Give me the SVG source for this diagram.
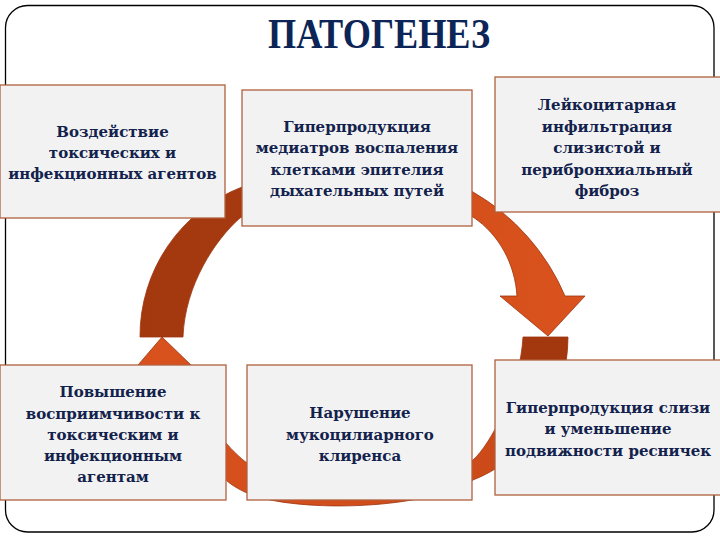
<svg xmlns="http://www.w3.org/2000/svg" width="720" height="540" viewBox="0 0 720 540">
<style>
.box{fill:#f2f2f2;stroke:#b0603e;stroke-width:1.3}
.t{font-family:"DejaVu Serif","Liberation Serif",serif;font-weight:bold;font-size:15px;fill:#13224c;text-anchor:middle}
.title{font-family:"Liberation Serif","Times New Roman",serif;font-weight:bold;font-size:42px;fill:#0c2456;text-anchor:middle}
.arc{stroke:#9c3510;stroke-width:0.8;stroke-linejoin:round}
</style>
<defs>
<linearGradient id="gUp" gradientUnits="userSpaceOnUse" x1="140" y1="0" x2="585" y2="0">
<stop offset="0" stop-color="#a3380f"/>
<stop offset="0.45" stop-color="#a83a10"/>
<stop offset="0.55" stop-color="#d24d1a"/>
<stop offset="1" stop-color="#da531e"/>
</linearGradient>
<linearGradient id="gLow" gradientUnits="userSpaceOnUse" x1="568" y1="0" x2="125" y2="0">
<stop offset="0" stop-color="#a3380f"/>
<stop offset="0.105" stop-color="#a3380f"/>
<stop offset="0.15" stop-color="#cc4a19"/>
<stop offset="1" stop-color="#d9521e"/>
</linearGradient>
</defs>
<rect x="5.5" y="5.5" width="708.5" height="526.5" rx="22" fill="#ffffff" stroke="#000000" stroke-width="1.3"/>
<text class="title" x="379" y="48" textLength="222" lengthAdjust="spacingAndGlyphs">ПАТОГЕНЕЗ</text>
<g id="connectors">
<path class="arc" fill="url(#gUp)" d="M140,337 A160,160 0 0 1 242,187 C290,168 420,160 473,192 A219,219 0 0 1 565,296 L585,296 L548,336 L500,296 L517,296 C515,265 500,235 473,217 C430,190 290,190 240,218 C215,240 185,285 183,337 Z"/>
<path class="arc" fill="url(#gLow)" d="M523,337 L568,337 C568,410 520,462 473,480 C420,512 290,512 247,493 C238,489 230,484 226,480 C190,455 150,425 147,392 L115,392 L162,337 L219,392 L187,392 C190,415 205,435 226,443 C232,450 240,458 247,463 C300,490 420,490 473,460 C490,445 520,390 523,337 Z"/>
</g>
<g id="n1">
<rect class="box" x="0" y="85" width="225" height="133"/>
<text class="t" x="112.5" y="137">Воздействие</text>
<text class="t" x="112.5" y="158">токсических и</text>
<text class="t" x="112.5" y="179">инфекционных  агентов</text>
</g>
<g id="n2">
<rect class="box" x="242" y="90" width="230" height="136"/>
<text class="t" x="357" y="132">Гиперпродукция</text>
<text class="t" x="357" y="153">медиатров воспаления</text>
<text class="t" x="357" y="174.5">клетками эпителия</text>
<text class="t" x="357" y="195.5">дыхательных путей</text>
</g>
<g id="n3">
<rect class="box" x="495" y="77" width="228" height="135"/>
<text class="t" x="607" y="110">Лейкоцитарная</text>
<text class="t" x="607" y="131.5">инфильтрация</text>
<text class="t" x="607" y="153">слизистой и</text>
<text class="t" x="607" y="174.5">перибронхиальный</text>
<text class="t" x="607" y="196">фиброз</text>
</g>
<g id="n4">
<rect class="box" x="0" y="365" width="226" height="135"/>
<text class="t" x="113" y="397">Повышение</text>
<text class="t" x="113" y="418.5">восприимчивости к</text>
<text class="t" x="113" y="440">токсическим и</text>
<text class="t" x="113" y="461">инфекционным</text>
<text class="t" x="113" y="482">агентам</text>
</g>
<g id="n5">
<rect class="box" x="247" y="365" width="225" height="135"/>
<text class="t" x="360" y="418">Нарушение</text>
<text class="t" x="360" y="439.5">мукоцилиарного</text>
<text class="t" x="360" y="461">клиренса</text>
</g>
<g id="n6">
<rect class="box" x="495" y="360" width="228" height="135"/>
<text class="t" x="608" y="413">Гиперпродукция слизи</text>
<text class="t" x="608" y="434">и уменьшение</text>
<text class="t" x="608" y="455.5">подвижности ресничек</text>
</g>
</svg>
